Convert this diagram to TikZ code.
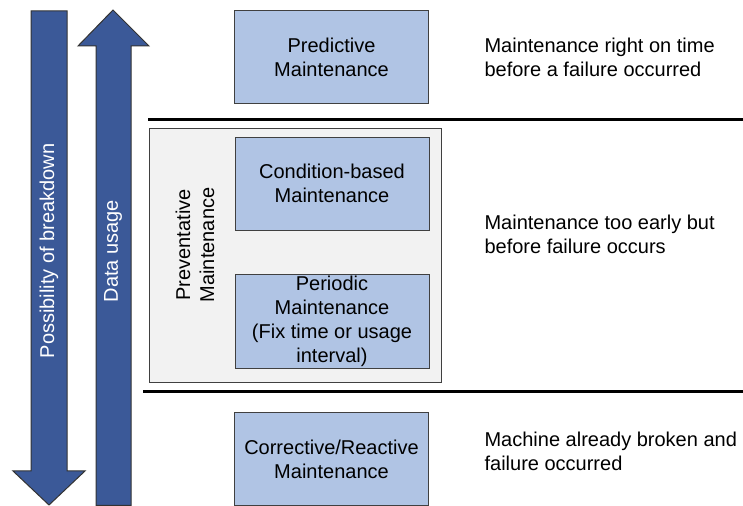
\documentclass[tikz,border=0pt]{standalone}
\usepackage{fontspec}
\setmainfont{Liberation Sans}
\usetikzlibrary{calc}
\definecolor{arrowblue}{RGB}{59,89,152}
\definecolor{boxblue}{RGB}{176,196,228}
\definecolor{panelgray}{RGB}{242,242,242}

\begin{document}
\begin{tikzpicture}[x=0.5pt,y=-0.5pt,
        mbox/.style={draw=black!75,fill=boxblue,minimum width=97pt,minimum height=46.5pt,align=center,inner sep=1pt},
        note/.style={anchor=west,align=left},
        bigarrow/.style={draw=black!80,fill=arrowblue,line width=0.5pt,line join=miter},
        sepline/.style={line width=1.5pt}]
        \useasboundingbox (0,0) rectangle (743,506);

        % draw the two big arrows
        \filldraw[bigarrow] (31,11) -- (67,11) -- (67,471) -- (85,471) -- (49,505)
                -- (13,471) -- (31,471) -- cycle;
        \filldraw[bigarrow] (96,505.5) -- (96,46) -- (78,46) -- (113,10) -- (149,46)
                -- (131,46) -- (131,505.5) -- cycle;
        \node[rotate=90,text=white] (breakdown) at (49,251) {Possibility of breakdown};
        \node[rotate=90,text=white] (usage) at (113,251) {Data usage};

        % draw the separating lines
        \coordinate (topL) at (148,120);
        \coordinate (topR) at (743,120);
        \coordinate (botL) at (143,392);
        \coordinate (botR) at (743,392);
        \draw[sepline] (topL) -- (topR);
        \draw[sepline] (botL) -- (botR);

        % draw the gray panel for the preventative part
        \filldraw[draw=black!75,fill=panelgray,line width=0.5pt] (149.5,129) rectangle (441.5,383);
        \node[rotate=90,align=center] (prev) at (195,245) {Preventative\\Maintenance};

        % draw the maintenance boxes
        \node[mbox] (pred) at (331.5,57) {Predictive\\Maintenance};
        \node[mbox] (cond) at (332,183.5) {Condition-based\\Maintenance};
        \node[mbox] (peri) at (332,321.5) {Periodic\\Maintenance\\(Fix time or usage\\interval)};
        \node[mbox] (corr) at (331.5,459) {Corrective/Reactive\\Maintenance};

        % draw the descriptions on the right
        \foreach \y/\name/\desc in {
            57/predtxt/{Maintenance right on time\\before a failure occurred},
            234.5/prevtxt/{Maintenance too early but\\before failure occurs},
            451/corrtxt/{Machine already broken and\\failure occurred}}
                \node[note] (\name) at (477.5,\y) {\desc};
\end{tikzpicture}
\end{document}
